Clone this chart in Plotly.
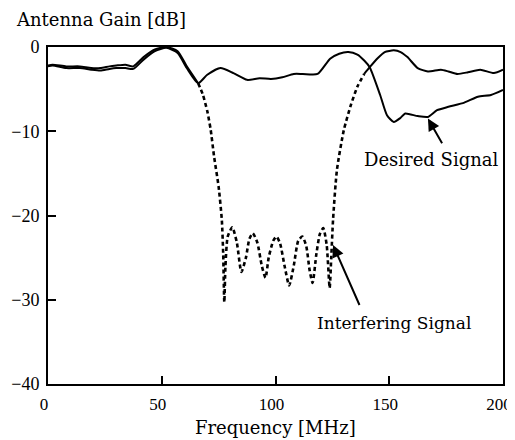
import plotly.graph_objects as go

# Desired signal (solid throughout)
desired_freq = [0, 2, 8, 14, 19, 23, 27, 30, 34, 37.5, 42, 47, 52, 57, 61, 66, 70, 75.8, 81.5, 87.5, 93, 98,
                103, 108, 112, 118.5, 124, 128, 132, 136, 139, 141.4, 146, 149, 152, 155, 157, 162.5, 167,
                171, 176, 183, 189, 194.7, 200]
desired_gain = [-2.3, -2.2, -2.5, -2.5, -2.7, -2.8, -2.6, -2.5, -2.5, -2.6, -1.5, -0.5, -0.1, -0.7, -2.5, -4.3,
                -3.3, -2.5, -3.1, -3.9, -3.7, -3.8, -3.6, -3.2, -3.2, -3.2, -1.4, -0.8, -0.6, -0.9, -1.6, -2.4,
                -5.7, -8.1, -8.9, -8.4, -7.9, -8.2, -8.3, -7.5, -7.1, -6.6, -5.9, -5.7, -5.1]

# Interfering signal: solid low band, dotted stop band, solid high band
interf_low_freq = [0, 2, 8, 14, 19, 23, 27, 30, 34, 37.5, 42, 47, 52, 57, 61, 66]
interf_low_gain = [-2.2, -2.1, -2.3, -2.3, -2.5, -2.5, -2.3, -2.2, -2.1, -2.3, -1.2, -0.3, 0.0, -0.5, -2.3, -4.3]

interf_stop_freq = [66, 68, 70, 71.5, 73, 75, 76.4, 77, 77.5, 78, 79, 81, 83, 85, 87, 88.5, 90, 92, 94, 95.6,
                    97, 99, 100.4, 102, 104, 106, 108, 110, 111.8, 113.5, 115, 116.3, 118, 119.5, 121, 122.5,
                    123.8, 124.5, 125.3, 127, 130, 133, 136, 139]
interf_stop_gain = [-4.3, -5.6, -7.6, -9.8, -13, -16.6, -20.5, -24.5, -30.3, -26, -22.5, -21.4, -23.2, -26.7,
                    -25, -22.8, -22.1, -23.2, -26, -27.4, -25, -23, -22.5, -23.3, -26, -28.3, -26, -23, -22.5,
                    -23.6, -26.5, -28, -24.5, -22.2, -21.5, -23.5, -28.6, -25, -20.5, -14.6, -9.9, -7, -4.7, -3.2]

interf_high_freq = [139, 141.4, 145, 148, 152, 155, 158, 162.5, 167, 172.7, 176, 180, 184.6, 190, 196, 200]
interf_high_gain = [-3.2, -2.4, -1.3, -0.6, -0.4, -0.6, -1.2, -2.5, -2.9, -2.7, -2.9, -3.2, -3.0, -2.7, -3.1, -2.7]

x_ticks = [0, 50, 100, 150, 200]
y_ticks = [0, -10, -20, -30, -40]

FONT = "DejaVu Serif"
TICK_FONT = "Liberation Serif, Times New Roman, serif"
line = dict(color="black", width=2)

fig = go.Figure()
fig.add_trace(go.Scatter(x=desired_freq, y=desired_gain, mode="lines", line=dict(line, shape="spline", smoothing=0.6)))
fig.add_trace(go.Scatter(x=interf_low_freq, y=interf_low_gain, mode="lines", line=dict(line, shape="spline", smoothing=0.6)))
fig.add_trace(go.Scatter(x=interf_stop_freq, y=interf_stop_gain, mode="lines",
                         line=dict(color="black", width=2.6, dash="4px,3px", shape="spline", smoothing=0.6)))
fig.add_trace(go.Scatter(x=interf_high_freq, y=interf_high_gain, mode="lines", line=dict(line, shape="spline", smoothing=0.6)))

axis_common = dict(showline=True, linecolor="black", linewidth=2, mirror=True, ticks="inside",
                   ticklen=8, tickwidth=2, tickcolor="black", showgrid=False, zeroline=False,
                   automargin=False, ticklabeloverflow="allow")

fig.update_xaxes(range=[0, 200], tickvals=x_ticks, ticktext=[str(v) for v in x_ticks],
                 ticklabelstandoff=4, ticklabelshift=-4,
                 tickfont=dict(family=TICK_FONT, size=17, color="black"), **axis_common)
fig.update_yaxes(range=[-40, 0], tickvals=y_ticks, ticktext=[("\u2212" + str(-v)) if v < 0 else str(v) for v in y_ticks],
                 ticklabelstandoff=3, tickfont=dict(family=TICK_FONT, size=18, color="black"), **axis_common)

fig.add_annotation(text="Antenna Gain [dB]", xref="paper", yref="paper", x=-0.075, y=1.083,
                   xanchor="left", yanchor="middle", showarrow=False,
                   font=dict(family=FONT, size=18, color="black"))
fig.add_annotation(text="Frequency [MHz]", xref="paper", yref="paper", x=0.5, y=-0.13,
                   xanchor="center", yanchor="middle", showarrow=False,
                   font=dict(family=FONT, size=18, color="black"))

fig.add_annotation(text="Desired Signal", x=168.4, y=-13.4, xref="x", yref="y", showarrow=False,
                   font=dict(family=FONT, size=18, color="black"))
fig.add_annotation(x=167, y=-8.5, ax=173.6, ay=-11.6, xref="x", yref="y", axref="x", ayref="y",
                   text="", showarrow=True, arrowhead=2, arrowsize=1.2, arrowwidth=2, arrowcolor="black")

fig.add_annotation(text="Interfering Signal", x=152.3, y=-32.8, xref="x", yref="y", showarrow=False,
                   font=dict(family=FONT, size=17, color="black"))
fig.add_annotation(x=125.3, y=-23.5, ax=137.2, ay=-30.8, xref="x", yref="y", axref="x", ayref="y",
                   text="", showarrow=True, arrowhead=2, arrowsize=1.2, arrowwidth=2, arrowcolor="black")

# The page adds an 8px body margin, so the figure is sized to fill the remaining window.
fig.update_layout(width=507, height=432, margin=dict(l=40, r=12, t=39, b=56),
                  paper_bgcolor="white", plot_bgcolor="white", showlegend=False)

fig.write_html("out.html")
